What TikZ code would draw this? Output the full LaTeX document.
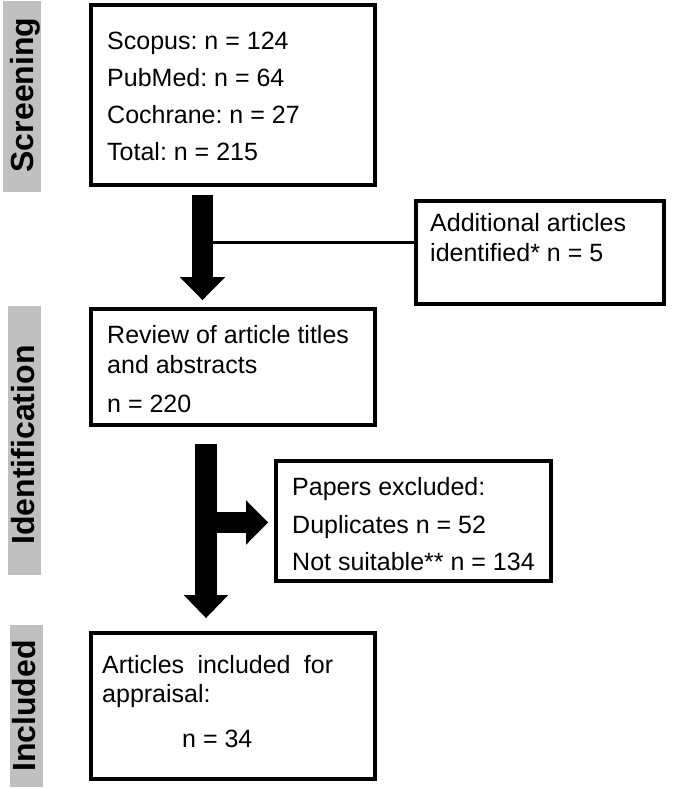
\documentclass[tikz,border=0pt]{standalone}
\usepackage{fontspec}
\setmainfont{Liberation Sans}
\usetikzlibrary{arrows.meta,calc}
\definecolor{bandgray}{RGB}{192,192,192}
\frenchspacing
\begin{document}
\begin{tikzpicture}[x=1pt,y=-1pt,
  box/.style={draw=black, line width=3.8pt, rectangle, inner sep=0pt},
  band/.style={fill=bandgray, draw=none, inner sep=0pt},
  bandtext/.style={rotate=90, anchor=base, inner sep=0pt, font=\fontsize{32}{38}\selectfont\bfseries},
  txt/.style={anchor=base west, inner sep=0pt, font=\fontsize{25}{30}\selectfont},
  fat/.style={line width=21pt, -{Triangle[length=23pt,width=44pt]}},
  thinline/.style={line width=3pt}]
\useasboundingbox (0,0) rectangle (685,789);

% side bands
\node[band, minimum width=37.5pt, minimum height=191pt] (bandS) at (21.75,96.5) {};
\node[bandtext] (labS) at (33.5,95) {Screening};
\node[band, minimum width=32.5pt, minimum height=269pt] (bandI) at (24.5,440.5) {};
\node[bandtext] (labI) at (34.5,445) {Identification};
\node[band, minimum width=33pt, minimum height=162pt] (bandN) at (26.5,706) {};
\node[bandtext] (labN) at (35.5,706) {Included};

% boxes
\node[box, minimum width=284pt, minimum height=180pt] (b1) at (233,95) {};
\node[box, minimum width=248pt, minimum height=103pt] (b2) at (540,252.5) {};
\node[box, minimum width=284pt, minimum height=116pt] (b3) at (233,367) {};
\node[box, minimum width=275pt, minimum height=120pt] (b4) at (413.5,521) {};
\node[box, minimum width=284pt, minimum height=146pt] (b5) at (233,706) {};

% texts
\node[txt] (t1a) at (107,50) {Scopus: n = 124};
\node[txt] (t1b) at (107,87) {PubMed: n = 64};
\node[txt] (t1c) at (107,124) {Cochrane: n = 27};
\node[txt] (t1d) at (107,160) {Total: n = 215};

\node[txt] (t2a) at (430,231) {Additional articles};
\node[txt] (t2b) at (430,261) {identified* n = 5};

\node[txt] (t3a) at (107,343) {Review of article titles};
\node[txt] (t3b) at (107,373) {and abstracts};
\node[txt] (t3c) at (107,412) {n = 220};

\node[txt] (t4a) at (292,495) {Papers excluded:};
\node[txt] (t4b) at (292,533) {Duplicates n = 52};
\node[txt] (t4c) at (292,570) {Not suitable** n = 134};

\node[txt] (t5a) at (102,673) {\makebox[231pt][s]{Articles included for}};
\node[txt] (t5b) at (102,702) {appraisal:};
\node[txt] (t5c) at (182,747) {n = 34};

% connectors
\coordinate (a1s) at ($(b1.south)+(-30.5,8)$);
\coordinate (a1e) at ($(b3.north)+(-30.5,-7)$);
\coordinate (b2w) at ($(b2.west)+(0,-10.5)$);
\draw[thinline] (b2w) -- (b2w -| a1s);
\draw[fat] (a1s) -- (a1e);

\coordinate (a2s) at ($(b3.south)+(-27,17)$);
\coordinate (a2e) at ($(b5.north)+(-27,-13)$);
\coordinate (a4e) at ($(b4.west)+(-6,1.5)$);
\draw[fat, line width=22pt, -{Triangle[length=23pt,width=43pt]}] (a2s) -- (a2e);
\draw[fat, -{Triangle[length=22pt,width=43pt]}] (a4e -| a2s) -- (a4e);
\end{tikzpicture}
\end{document}
